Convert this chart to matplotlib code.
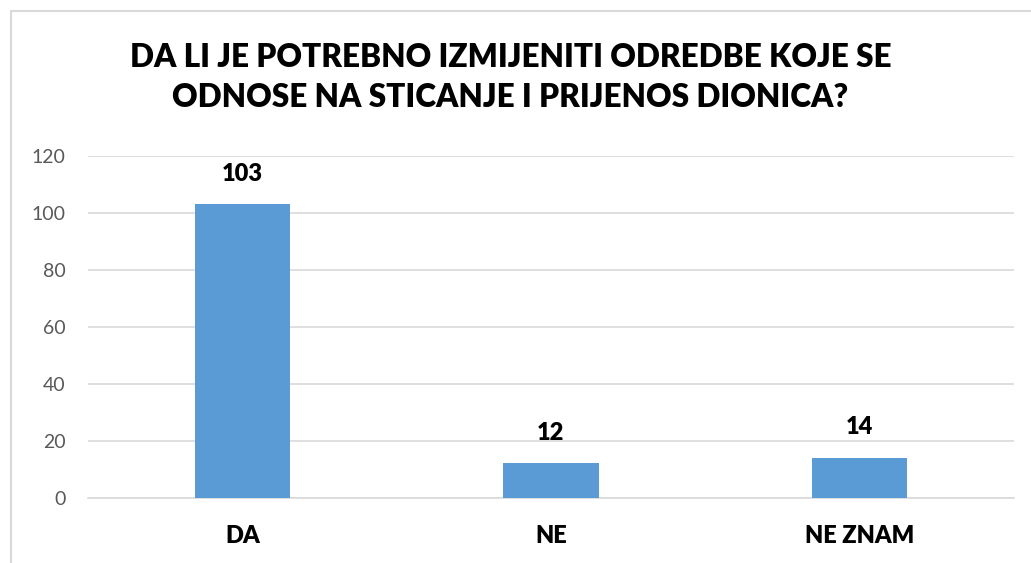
import matplotlib.pyplot as plt
from matplotlib.patches import Rectangle

# chart data
categories = ["DA", "NE", "NE ZNAM"]
values = [103, 12, 14]
yticks = [0, 20, 40, 60, 80, 100, 120]
title = "DA LI JE POTREBNO IZMIJENITI ODREDBE KOJE SE\nODNOSE NA STICANJE I PRIJENOS DIONICA?"

plt.rcParams['font.family'] = ['Lato', 'DejaVu Sans']

fig = plt.figure(figsize=(10.31, 5.63), dpi=100)
ax = fig.add_axes([0.0854, 0.1163, 0.898, 0.6075])

# outer chart border (only top and left are visible in the crop)
fig.patches.append(Rectangle((11 / 1031, -0.1), 1.2, 1 - 10.5 / 563 + 0.1,
                             transform=fig.transFigure, fill=False,
                             edgecolor="#D9D9D9", linewidth=1.5))

x = range(len(categories))
ax.bar(x, values, width=0.31, color="#5B9BD5", zorder=3)
for i, v in zip(x, values):
    ax.annotate(str(v), (i, v), xytext=(0, 14), textcoords="offset points",
                ha="center", va="bottom", fontsize=17, fontweight="heavy",
                color="black")

ax.set_xlim(-0.5, 2.5)
ax.set_ylim(0, 120)
ax.set_yticks(yticks)
ax.set_xticks(list(x))
ax.set_xticklabels(categories, fontsize=17, fontweight="heavy", color="black")
ax.tick_params(axis="x", length=0, pad=20)
ax.tick_params(axis="y", length=0, pad=16, labelsize=14, labelcolor="#595959")

ax.grid(axis="y", color="#D9D9D9", linewidth=1.2, zorder=0)
for s in ["top", "right", "left"]:
    ax.spines[s].set_visible(False)
ax.spines["bottom"].set_color("#D9D9D9")
ax.spines["bottom"].set_linewidth(1.2)

fig.text(0.495, 0.863, title, ha="center", va="center", fontsize=22.7,
         fontweight="heavy", color="black", linespacing=1.45)

fig.savefig("out.png", dpi=100, facecolor="white")
